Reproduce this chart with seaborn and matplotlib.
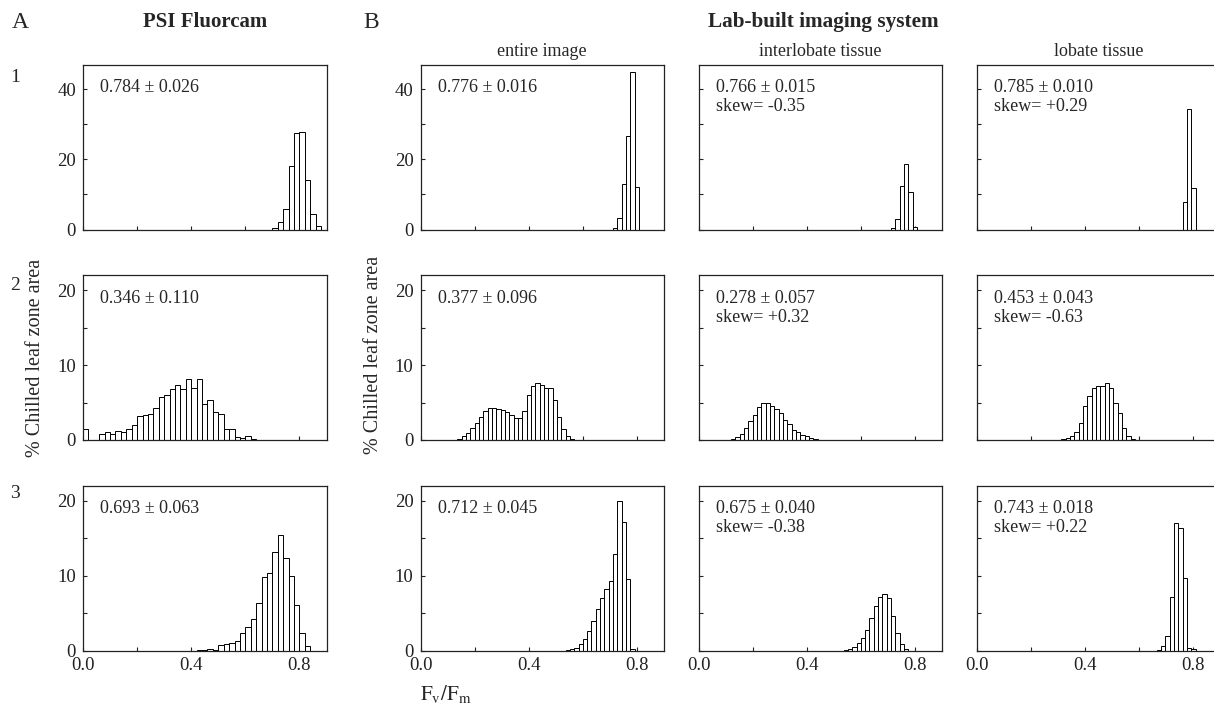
import numpy as np
import pandas as pd
import seaborn as sns
import matplotlib.pyplot as plt
from matplotlib.ticker import MultipleLocator

# PSI Fluorcam histograms: 0.02 wide bins, *_lo = left edge of first bin
psi_bin = 0.02
psi1_lo = 0.70
psi1 = [0.4, 2.1, 5.8, 18.1, 27.4, 27.8, 14.0, 4.4, 0.9]
psi2_lo = 0.00
psi2 = [1.5, 0, 0, 0.76, 1.07, 0.85, 1.2, 1.1, 1.5, 2.06,
        3.2, 3.4, 3.5, 4.3, 5.7, 6.0, 6.8, 7.4, 6.8, 8.1,
        7.0, 8.1, 4.8, 5.3, 3.7, 3.4, 1.4, 1.4, 0.45, 0.3,
        0.6, 0.2]
psi3_lo = 0.42
psi3 = [0.05, 0.1, 0.2, 0.1, 0.7, 0.9, 1.0, 1.3, 2.3, 3.2,
        4.2, 6.3, 9.8, 10.3, 13.2, 15.4, 12.3, 9.9, 6.1, 2.3, 0.6]

# lab-built system: 0.016 wide bins, *_c0 = centre of first bin
lab_bin = 0.016
ent1_c0 = 0.720
ent1 = [0.3, 3.3, 13.0, 26.7, 44.8, 12.2]
int1_c0 = 0.720
int1 = [0.3, 3.0, 12.4, 18.8, 10.7, 0.8]
lob1_c0 = 0.768
lob1 = [7.8, 34.4, 11.8]

ent2_c0 = 0.144
ent2 = [0.2, 0.5, 0.9, 1.6, 2.3, 3.1, 3.9, 4.3, 4.3, 4.2,
        4.0, 3.8, 3.4, 3.0, 2.9, 3.9, 6.0, 7.2, 7.6, 7.4,
        6.9, 6.9, 5.3, 3.1, 1.4, 0.5, 0.1]
int2_c0 = 0.128
int2 = [0.1, 0.4, 0.8, 1.6, 2.5, 3.4, 4.4, 4.9, 4.9, 4.6,
        4.2, 3.6, 2.7, 2.1, 1.4, 1.1, 0.7, 0.5, 0.3, 0.15, 0.05]
lob2_c0 = 0.320
lob2 = [0.1, 0.3, 0.6, 1.1, 2.3, 4.5, 5.9, 6.9, 7.2, 7.2,
        7.6, 7.0, 5.0, 3.6, 1.6, 0.6, 0.2]

ent3_c0 = 0.544
ent3 = [0.05, 0.2, 0.4, 0.9, 1.6, 2.6, 3.9, 5.6, 7.0, 8.2,
        9.3, 12.9, 20.0, 17.1, 9.5, 0.2]
int3_c0 = 0.544
int3 = [0.05, 0.2, 0.5, 1.0, 1.7, 2.8, 4.3, 5.9, 7.2, 7.6,
        7.0, 4.6, 2.3, 0.9, 0.2]
lob3_c0 = 0.672
lob3 = [0.1, 0.6, 1.9, 7.1, 17.0, 16.3, 9.7, 0.4, 0.2]

col_titles = ["", "entire image", "interlobate tissue", "lobate tissue"]
stats = [
    ["0.784 \u00b1 0.026", "0.776 \u00b1 0.016", "0.766 \u00b1 0.015", "0.785 \u00b1 0.010"],
    ["0.346 \u00b1 0.110", "0.377 \u00b1 0.096", "0.278 \u00b1 0.057", "0.453 \u00b1 0.043"],
    ["0.693 \u00b1 0.063", "0.712 \u00b1 0.045", "0.675 \u00b1 0.040", "0.743 \u00b1 0.018"],
]
skews = [
    ["", "", "skew= -0.35", "skew= +0.29"],
    ["", "", "skew= +0.32", "skew= -0.63"],
    ["", "", "skew= -0.38", "skew= +0.22"],
]
ymax = [47, 22, 22]
ymajor = [20, 10, 10]

sns.set_style("ticks", {"xtick.direction": "in", "ytick.direction": "in"})
plt.rcParams["font.family"] = ["Liberation Serif", "DejaVu Serif"]
plt.rcParams["mathtext.fontset"] = "stix"

W, H = 1214, 706
fig = plt.figure(figsize=(W / 100, H / 100), dpi=100)

lefts = [83, 420.5, 698.5, 977]
tops = [64.5, 275, 485.5]
aw, ah = 243.5, 165


def draw(ax, lo, width, vals):
    # bins as a plain list: seaborn compares bins == "auto" when weights are given
    edges = [lo + width * i for i in range(len(vals) + 1)]
    df = pd.DataFrame({"fvfm": np.array(edges[:-1]) + width / 2, "pct": vals})
    sns.histplot(data=df, x="fvfm", weights="pct", bins=edges, ax=ax,
                 color="white", edgecolor="black", linewidth=0.7, alpha=1)


data = [
    [(psi1_lo, psi_bin, psi1), (ent1_c0 - lab_bin / 2, lab_bin, ent1),
     (int1_c0 - lab_bin / 2, lab_bin, int1), (lob1_c0 - lab_bin / 2, lab_bin, lob1)],
    [(psi2_lo, psi_bin, psi2), (ent2_c0 - lab_bin / 2, lab_bin, ent2),
     (int2_c0 - lab_bin / 2, lab_bin, int2), (lob2_c0 - lab_bin / 2, lab_bin, lob2)],
    [(psi3_lo, psi_bin, psi3), (ent3_c0 - lab_bin / 2, lab_bin, ent3),
     (int3_c0 - lab_bin / 2, lab_bin, int3), (lob3_c0 - lab_bin / 2, lab_bin, lob3)],
]

for r in range(3):
    for c in range(4):
        ax = fig.add_axes([lefts[c] / W, 1 - (tops[r] + ah) / H, aw / W, ah / H])
        lo, width, vals = data[r][c]
        draw(ax, lo, width, vals)
        ax.set_xlim(0, 0.9)
        ax.set_ylim(0, ymax[r])
        ax.xaxis.set_major_locator(MultipleLocator(0.4))
        ax.xaxis.set_minor_locator(MultipleLocator(0.2))
        ax.yaxis.set_major_locator(MultipleLocator(ymajor[r]))
        ax.yaxis.set_minor_locator(MultipleLocator(ymajor[r] / 2))
        ax.tick_params(which="both", direction="in", length=3, width=0.8,
                       colors="#222222", labelsize=13.5, top=False, right=False)
        ax.tick_params(axis="y", pad=5)
        ax.tick_params(axis="x", pad=4.5)
        ax.tick_params(labelbottom=(r == 2), labelleft=(c < 2))
        ax.set_xlabel("")
        ax.set_ylabel("")
        for s in ax.spines.values():
            s.set_linewidth(0.9)
            s.set_color("#222222")
        if r == 0 and col_titles[c]:
            ax.set_title(col_titles[c], fontsize=13, pad=6)
        ax.annotate(stats[r][c], xy=(0, 1), xycoords="axes fraction",
                    xytext=(12.5, -20), textcoords="offset points",
                    fontsize=13, va="baseline", ha="left")
        if skews[r][c]:
            ax.annotate(skews[r][c], xy=(0, 1), xycoords="axes fraction",
                        xytext=(12.5, -33.5), textcoords="offset points",
                        fontsize=13, va="baseline", ha="left")

fig.text(12 / W, 1 - 22 / H, "A", fontsize=17, ha="left", va="center")
fig.text(363 / W, 1 - 22 / H, "B", fontsize=17, ha="left", va="center")
fig.text(205 / W, 1 - 22 / H, "PSI Fluorcam", fontsize=15, fontweight="bold",
         ha="center", va="center")
fig.text(823 / W, 1 - 22 / H, "Lab-built imaging system", fontsize=15.3,
         fontweight="bold", ha="center", va="center")

for label, y in zip(["1", "2", "3"], [77, 286, 493]):
    fig.text(15 / W, 1 - y / H, label, fontsize=14, ha="center", va="center")

for x, y in [(36, 358), (373.5, 355)]:
    fig.text(x / W, 1 - y / H, "% Chilled leaf zone area", fontsize=14.5,
             rotation=90, ha="center", va="center")

fig.text(420 / W, 1 - 694 / H, r"$\mathrm{F_v/F_m}$", fontsize=15,
         ha="left", va="center")

fig.savefig("out.png", dpi=100)
